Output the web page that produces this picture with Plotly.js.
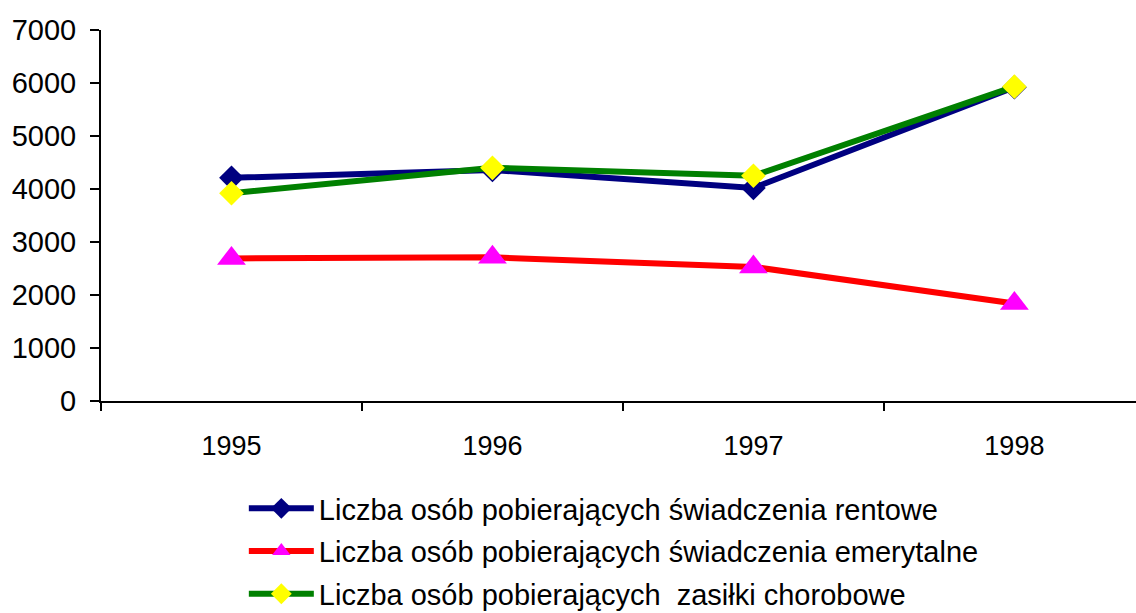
<!DOCTYPE html>
<html>
<head>
<meta charset="utf-8">
<script src="https://cdn.plot.ly/plotly-3.0.1.min.js"></script>
<style>html,body{margin:0;padding:0;background:#fff;}#chart{width:1136px;height:613px;}</style>
</head>
<body>
<div id="chart"></div>
<script>
const years = ['1995', '1996', '1997', '1998'];
const rentowe = [4210, 4360, 4020, 5920];
const emerytalne = [2690, 2710, 2530, 1840];
const zasilki = [3920, 4400, 4250, 5930];
const seriesNames = [
  'Liczba osób pobierających świadczenia rentowe',
  'Liczba osób pobierających świadczenia emerytalne',
  'Liczba osób pobierających \u00a0zasiłki chorobowe'
];
const yTicks = [0, 1000, 2000, 3000, 4000, 5000, 6000, 7000];

const xIdx = years.map((_, i) => i);
const fam = 'Liberation Sans, Arial, sans-serif';
const xFont = {family: fam, size: 27, color: '#000'};
const yFont = {family: fam, size: 29, color: '#000'};
const legendFont = {family: fam, size: 29, color: '#000'};

const traces = [
  {x: xIdx, y: rentowe, name: seriesNames[0], legendgroup: 'a', type: 'scatter', mode: 'lines+markers',
   line: {color: '#000080', width: 6}, marker: {symbol: 'diamond', size: 19, color: '#000080'}},
  {x: xIdx, y: emerytalne, name: seriesNames[1], legendgroup: 'b', type: 'scatter', mode: 'lines+markers',
   line: {color: '#FF0000', width: 6}, marker: {symbol: 'triangle-up', size: 25, color: '#FF00FF'}},
  {x: xIdx, y: zasilki, name: seriesNames[2], legendgroup: 'c', type: 'scatter', mode: 'lines+markers',
   line: {color: '#008000', width: 6}, marker: {symbol: 'diamond', size: 19, color: '#FFFF00'}},
  {x: [0], y: [0], xaxis: 'x2', type: 'scatter', mode: 'none', showlegend: false, hoverinfo: 'skip'}
];

const layout = {
  width: 1136, height: 613,
  paper_bgcolor: '#fff', plot_bgcolor: '#fff',
  margin: {l: 101, r: 0, t: 30, b: 212, autoexpand: false},
  font: xFont,
  showlegend: true,
  legend: {x: 0.138, y: -0.221, xanchor: 'left', yanchor: 'top', font: legendFont,
           bgcolor: 'rgba(0,0,0,0)', traceorder: 'grouped', tracegroupgap: 2, itemwidth: 65},
  xaxis: {range: [-0.5, 3.466], tickmode: 'array', tickvals: xIdx, ticktext: years,
          ticks: '', showgrid: false, zeroline: false, showline: true, linecolor: '#000', linewidth: 2,
          ticklabelstandoff: 20, tickfont: xFont, fixedrange: true, automargin: false},
  xaxis2: {overlaying: 'x', range: [-0.5, 3.466], tickmode: 'array', tickvals: [-0.5, 0.5, 1.5, 2.5],
           showticklabels: false, ticks: 'outside', ticklen: 9, tickwidth: 2, tickcolor: '#000',
           showgrid: false, zeroline: false, side: 'bottom', anchor: 'y'},
  yaxis: {range: [0, 7000], tickmode: 'array', tickvals: yTicks, ticks: 'outside', ticklen: 9,
          tickwidth: 2, tickcolor: '#000', showgrid: false, zeroline: false, showline: true,
          linecolor: '#000', linewidth: 2, tickfont: yFont, ticklabelstandoff: 8, automargin: false}
};

Plotly.newPlot('chart', traces, layout, {displayModeBar: false, staticPlot: true});
</script>
</body>
</html>
